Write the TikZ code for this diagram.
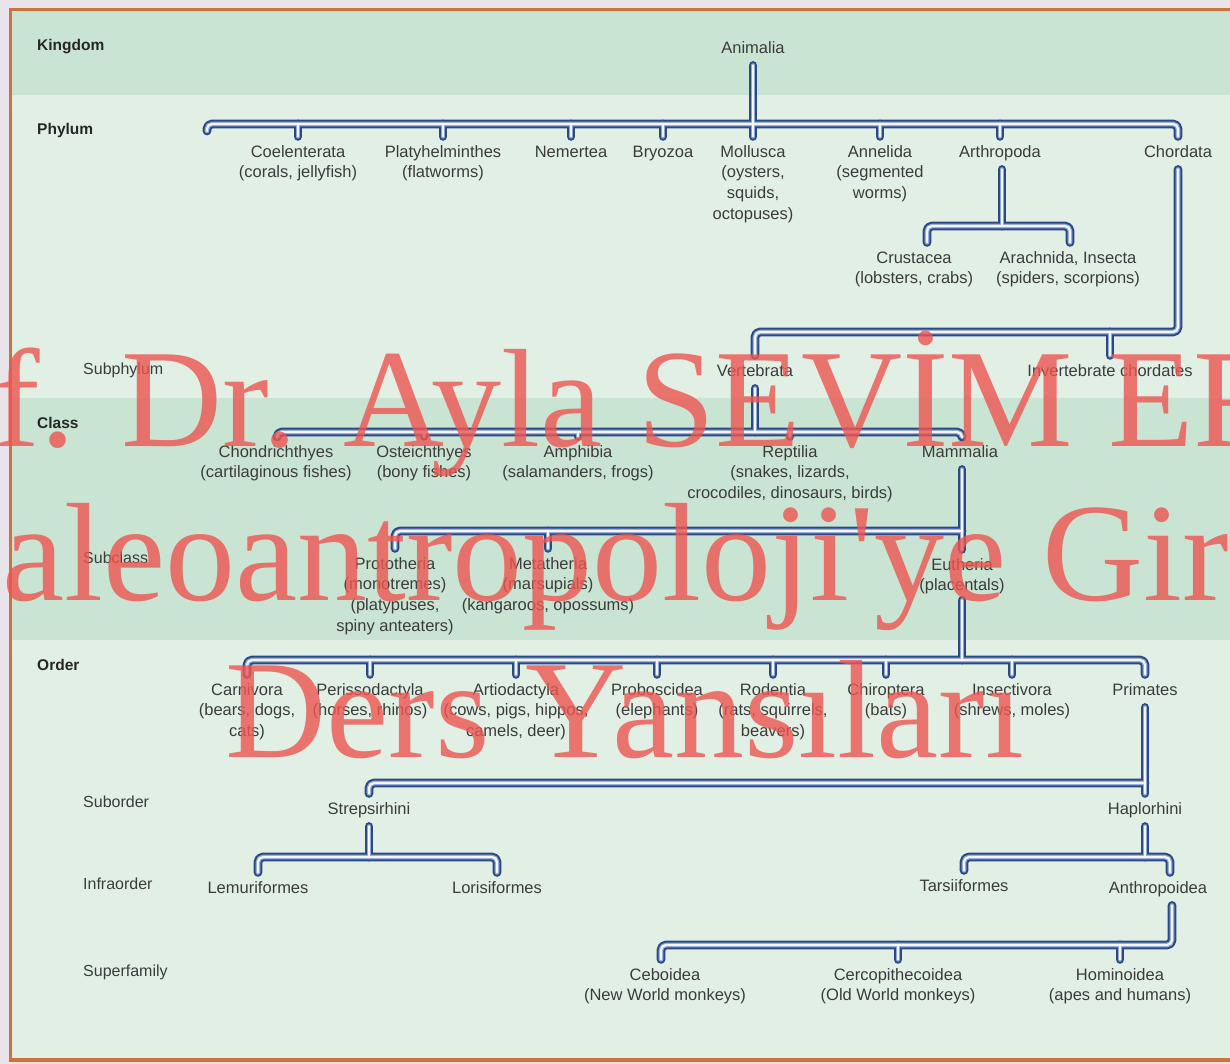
\documentclass[tikz,border=0pt]{standalone}
\usepackage{fontspec}
\setmainfont{Liberation Sans}
\newfontfamily\wmfont{Liberation Serif}
\definecolor{outerbg}{HTML}{E8E5EA}
\definecolor{banddark}{HTML}{C9E4D2}
\definecolor{bandlight}{HTML}{E1EFE5}
\definecolor{borderor}{HTML}{D0703C}
\definecolor{tubeA}{HTML}{2B4A85}
\definecolor{tubeB}{HTML}{8FA7D6}
\definecolor{tubeC}{HTML}{F4F6FC}
\definecolor{labtext}{HTML}{3C3C3C}
\definecolor{ranktext}{HTML}{262626}
\definecolor{wmred}{RGB}{238,85,80}
\tikzset{
  lab/.style={anchor=north, yshift=8.6pt, align=center, inner sep=0pt, text=labtext,
    font=\fontsize{16.5}{20.7}\selectfont},
  rankb/.style={anchor=west, inner sep=0pt, text=ranktext, font=\fontsize{15.5}{18}\selectfont\bfseries},
  rankr/.style={anchor=west, inner sep=0pt, text=labtext, font=\fontsize{16}{18}\selectfont},
  tA/.style={draw=tubeA, line width=8.8pt, line cap=round, line join=round, rounded corners=5pt},
  tB/.style={draw=tubeB, line width=4.6pt, line cap=round, line join=round, rounded corners=5pt},
  tC/.style={draw=tubeC, line width=2.2pt, line cap=round, line join=round, rounded corners=5pt},
  wm/.style={inner sep=0pt, text=wmred, text opacity=0.8, font=\wmfont\fontsize{140}{140}\selectfont},
  border/.style={draw=borderor, line width=3.2pt}
}
\newcommand\mkT[2]{\coordinate (#1T) at ([xshift=#2pt,yshift=6pt]#1.north);}
\newcommand\mkB[2]{\coordinate (#1B) at ([xshift=#2pt,yshift=-6pt]#1.south);}
\newcommand\tubes[1]{%
  \draw[#1] (animB) -- (mollT);
  \draw[#1] (phL) |- (chorT |- 0,124) -- (chorT);
  \foreach \n in {cole,plat,neme,bryo,anne,arth} {\draw[#1] (\n T |- 0,124) -- (\n T);}
  \draw[#1] (arthB) -- (arthB |- 0,226);
  \draw[#1] (crusT) |- (aracT |- 0,226) -- (aracT);
  \draw[#1] (chorB) |- (vertT |- 0,332) -- (vertT);
  \draw[#1] (inveT |- 0,332) -- (inveT);
  \draw[#1] (vertB) -- (vertB |- 0,432);
  \draw[#1] (chonT) |- (mammT |- 0,432) -- (mammT);
  \foreach \n in {oste,amph,rept} {\draw[#1] (\n T |- 0,432) -- (\n T);}
  \draw[#1] (mammB) -- (euthT);
  \draw[#1] (protT) |- (euthT |- 0,531);
  \draw[#1] (metaT |- 0,531) -- (metaT);
  \draw[#1] (euthB) -- (euthB |- 0,660);
  \draw[#1] (carnT) |- (primT |- 0,660) -- (primT);
  \foreach \n in {peri,arti,prob,rode,chir,inse} {\draw[#1] (\n T |- 0,660) -- (\n T);}
  \draw[#1] (primB) -- (haplT);
  \draw[#1] (primB |- 0,783) -| (strepT);
  \draw[#1] (strepB) -- (strepB |- 0,857);
  \draw[#1] (lemuT) |- (loriT |- 0,857) -- (loriT);
  \draw[#1] (haplB) -- (haplB |- 0,857);
  \draw[#1] (tarsT) |- (anthT |- 0,857) -- (anthT);
  \draw[#1] (anthB) |- (ceboT |- 0,945) -- (ceboT);
  \foreach \n in {cerc,homi} {\draw[#1] (\n T |- 0,945) -- (\n T);}
}
\begin{document}
\begin{tikzpicture}[x=1pt,y=-1pt]
\useasboundingbox (0,0) rectangle (1230,1064);
\fill[outerbg] (0,0) rectangle (1230,1064);
\fill[banddark] (10,10) rectangle (1230,95);
\fill[bandlight] (10,95) rectangle (1230,398);
\fill[banddark] (10,398) rectangle (1230,640);
\fill[bandlight] (10,640) rectangle (1230,1060);
\draw[border] (1230,9.5) -- (10.5,9.5) -- (10.5,1060) -- (1230,1060);

\node[rankb] (rKing) at (37,47) {Kingdom};
\node[rankb] (rPhyl) at (37,130) {Phylum};
\node[rankr] (rSubp) at (83,370) {Subphylum};
\node[rankb] (rClas) at (37,423) {Class};
\node[rankr] (rSubc) at (83,558) {Subclass};
\node[rankb] (rOrde) at (37,665) {Order};
\node[rankr] (rSubo) at (83,802) {Suborder};
\node[rankr] (rInfr) at (83,884) {Infraorder};
\node[rankr] (rSupe) at (83,972) {Superfamily};

\node[lab] (anim) at (753,47) {\strut Animalia};
\node[lab] (cole) at (298,151) {\strut Coelenterata\\(corals, jellyfish)};
\node[lab] (plat) at (443,151) {\strut Platyhelminthes\\(flatworms)};
\node[lab] (neme) at (571,151) {\strut Nemertea};
\node[lab] (bryo) at (663,151) {\strut Bryozoa};
\node[lab] (moll) at (753,151) {\strut Mollusca\\(oysters,\\squids,\\octopuses)};
\node[lab] (anne) at (880,151) {\strut Annelida\\(segmented\\worms)};
\node[lab] (arth) at (1000,151) {\strut Arthropoda};
\node[lab] (chor) at (1178,151) {\strut Chordata};
\node[lab] (crus) at (914,257) {\strut Crustacea\\(lobsters, crabs)};
\node[lab] (arac) at (1068,257) {\strut Arachnida, Insecta\\(spiders, scorpions)};
\node[lab] (vert) at (755,370) {\strut Vertebrata};
\node[lab] (inve) at (1110,370) {\strut Invertebrate chordates};
\node[lab] (chon) at (276,451) {\strut Chondrichthyes\\(cartilaginous fishes)};
\node[lab] (oste) at (424,451) {\strut Osteichthyes\\(bony fishes)};
\node[lab] (amph) at (578,451) {\strut Amphibia\\(salamanders, frogs)};
\node[lab] (rept) at (790,451) {\strut Reptilia\\(snakes, lizards,\\crocodiles, dinosaurs, birds)};
\node[lab] (mamm) at (960,451) {\strut Mammalia};
\node[lab] (prot) at (395,563) {\strut Prototheria\\(monotremes)\\(platypuses,\\spiny anteaters)};
\node[lab] (meta) at (548,563) {\strut Metatheria\\(marsupials)\\(kangaroos, opossums)};
\node[lab] (euth) at (962,564) {\strut Eutheria\\(placentals)};
\node[lab] (carn) at (247,689) {\strut Carnivora\\(bears, dogs,\\cats)};
\node[lab] (peri) at (370,689) {\strut Perissodactyla\\(horses, rhinos)};
\node[lab] (arti) at (516,689) {\strut Artiodactyla\\(cows, pigs, hippos,\\camels, deer)};
\node[lab] (prob) at (657,689) {\strut Proboscidea\\(elephants)};
\node[lab] (rode) at (773,689) {\strut Rodentia\\(rats, squirrels,\\beavers)};
\node[lab] (chir) at (886,689) {\strut Chiroptera\\(bats)};
\node[lab] (inse) at (1012,689) {\strut Insectivora\\(shrews, moles)};
\node[lab] (prim) at (1145,689) {\strut Primates};
\node[lab] (strep) at (369,808) {\strut Strepsirhini};
\node[lab] (hapl) at (1145,808) {\strut Haplorhini};
\node[lab] (lemu) at (258,887) {\strut Lemuriformes};
\node[lab] (lori) at (497,887) {\strut Lorisiformes};
\node[lab] (tars) at (964,885) {\strut Tarsiiformes};
\node[lab] (anth) at (1158,887) {\strut Anthropoidea};
\node[lab] (cebo) at (665,974) {\strut Ceboidea\\(New World monkeys)};
\node[lab] (cerc) at (898,974) {\strut Cercopithecoidea\\(Old World monkeys)};
\node[lab] (homi) at (1120,974) {\strut Hominoidea\\(apes and humans)};

\coordinate (phL) at (207,131);
\mkB{anim}{0}
\foreach \n in {cole,plat,neme,bryo,moll,anne,arth,chor,vert,inve,oste,amph,rept,prot,meta,euth,peri,arti,prob,rode,chir,inse,prim,strep,hapl,lemu,lori,tars,cerc,homi} {\mkT{\n}{0}}
\mkT{mamm}{2}
\mkT{crus}{13}
\mkT{arac}{2}
\mkT{chon}{1}
\mkT{carn}{0}
\mkT{anth}{12}
\mkT{cebo}{-4}
\mkB{arth}{2}
\mkB{chor}{0}
\mkB{vert}{0}
\mkB{mamm}{2}
\mkB{euth}{0}
\mkB{prim}{0}
\mkB{strep}{0}
\mkB{hapl}{0}
\mkB{anth}{14}

\tubes{tA}
\tubes{tB}
\tubes{tC}

\begin{scope}
\clip (0,0) rectangle (1230,1064);
\node[wm, anchor=base west] (wm1) at (-201,446) {Prof. Dr. Ayla SEVİM EROL};
\node[wm, anchor=base west] (wm2) at (-76,600) {Paleoantropoloji'ye Giriş};
\node[wm, anchor=base] (wm3) at (625,757) {Ders Yansıları};
\end{scope}
\end{tikzpicture}
\end{document}
